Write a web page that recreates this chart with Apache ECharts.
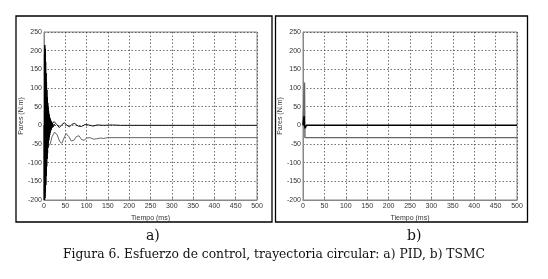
<!DOCTYPE html>
<html>
<head>
<meta charset="utf-8">
<script src="https://cdn.jsdelivr.net/npm/echarts@6/dist/echarts.min.js"></script>
<style>
  html, body { margin: 0; padding: 0; background: #fff; }
  #main { width: 548px; height: 279px; }
</style>
</head>
<body>
<div id="main"></div>
<script>
// ejes
var xTicks = [0, 50, 100, 150, 200, 250, 300, 350, 400, 450, 500];
var yTicks = [-200, -150, -100, -50, 0, 50, 100, 150, 200, 250];

// a) PID - oscilacion inicial (alta frecuencia)
var pidFastT = [0, 0.5, 1, 1.5, 2, 2.5, 3, 3.5, 4, 4.5, 5, 5.5, 6, 6.5, 7, 7.5, 8, 8.5, 9, 9.5,
  10, 10.5, 11, 11.5, 12, 12.5, 13, 13.5, 14, 14.5, 15, 15.5, 16, 16.5, 17, 17.5, 18, 19, 20, 22, 24, 26];
var pidFastV = [0, -200, 190, -200, 215, -195, 205, -180, 170, -160, 140, -135, 115, -110, 95, -90, 75, -75, 60, -60,
  48, -48, 38, -40, 30, -32, 24, -26, 20, -20, 16, -16, 13, -13, 11, -10, 9, -7, 6, -4, 3, 0];
// a) PID - curva cercana a cero
var pidZeroT = [0, 12, 18, 24, 30, 36, 42, 48, 54, 60, 66, 72, 80, 88, 96, 105, 115, 125, 140, 160, 180, 200, 500];
var pidZeroV = [0, -12, 4, 10, 2, -6, 2, 7, 0, -4, 3, 5, -2, -3, 2, 1, -2, 1, 0, 1, 0, 0, 0];
// a) PID - curva alrededor de -33
var pidOffT = [4, 7, 10, 14, 19, 25, 31, 37, 42, 47, 52, 58, 64, 70, 76, 82, 88, 94, 100, 108, 116, 124, 132, 140, 150, 500];
var pidOffV = [-40, -55, -60, -52, -30, -18, -26, -44, -48, -34, -22, -30, -42, -40, -30, -28, -38, -40, -34, -33, -37, -36, -34, -35, -33, -33];

// b) TSMC
var smcSpikeT = [0, 3.5, 4.5, 500];
var smcSpikeV = [0, 115, -33, -33];
var smcZeroT = [0, 2.5, 3.5, 5, 6, 8, 10, 500];
var smcZeroV = [0, 25, 0, -8, -3, 0, 0, 0];

function pairs(t, v) {
  return t.map(function (x, i) { return [x, v[i]]; });
}

var myChart = echarts.init(document.getElementById('main'));

var tickFont = { fontFamily: 'Liberation Sans', fontSize: 7, color: '#333' };

function makeX(gi) {
  return {
    type: 'value', gridIndex: gi, min: xTicks[0], max: xTicks[xTicks.length - 1], interval: 50,
    name: 'Tiempo (ms)', nameLocation: 'middle', nameGap: 11,
    nameTextStyle: { fontFamily: 'Liberation Sans', fontSize: 7, color: '#333' },
    axisLine: { onZero: false, lineStyle: { color: '#888', width: 1 } },
    axisTick: { show: true, inside: true, length: 2, lineStyle: { color: '#888' } },
    axisLabel: Object.assign({ margin: 3 }, tickFont),
    splitLine: { show: true, lineStyle: { color: '#333', type: [1.5, 2], width: 0.7 } }
  };
}
function makeY(gi) {
  return {
    type: 'value', gridIndex: gi, min: yTicks[0], max: yTicks[yTicks.length - 1], interval: 50,
    name: 'Pares (N.m)', nameLocation: 'middle', nameGap: 18,
    nameTextStyle: { fontFamily: 'Liberation Sans', fontSize: 7, color: '#333' },
    axisLine: { show: true, lineStyle: { color: '#888', width: 1 } },
    axisTick: { show: true, inside: true, length: 2, lineStyle: { color: '#888' } },
    axisLabel: Object.assign({ margin: 2 }, tickFont),
    splitLine: { show: true, lineStyle: { color: '#333', type: [1.5, 2], width: 0.7 } }
  };
}
function line(gi, t, v, color, w) {
  return {
    type: 'line', xAxisIndex: gi, yAxisIndex: gi, data: pairs(t, v),
    showSymbol: false, symbol: 'none', silent: true, z: 5,
    lineStyle: { color: color, width: w }
  };
}

var option = {
  animation: false,
  backgroundColor: '#fff',
  grid: [
    { left: 44, top: 32, width: 213, height: 168, show: true, borderColor: '#888', borderWidth: 1 },
    { left: 303, top: 32, width: 214, height: 168, show: true, borderColor: '#888', borderWidth: 1 }
  ],
  xAxis: [makeX(0), makeX(1)],
  yAxis: [makeY(0), makeY(1)],
  series: [
    line(0, pidOffT, pidOffV, '#555', 0.9),
    line(0, pidZeroT, pidZeroV, '#111', 1),
    line(0, pidFastT, pidFastV, '#000', 1),
    line(1, smcSpikeT, smcSpikeV, '#666', 1.4),
    line(1, smcZeroT, smcZeroV, '#000', 1.5)
  ],
  graphic: [
    { type: 'rect', shape: { x: 16, y: 16, width: 256, height: 206 }, style: { fill: null, stroke: '#000', lineWidth: 1.3 }, silent: true },
    { type: 'rect', shape: { x: 275.5, y: 16, width: 252, height: 206 }, style: { fill: null, stroke: '#000', lineWidth: 1.3 }, silent: true },
    { type: 'text', left: 146, top: 229, style: { text: 'a)', font: '14px "DejaVu Serif"', fill: '#111' } },
    { type: 'text', left: 407, top: 229, style: { text: 'b)', font: '14px "DejaVu Serif"', fill: '#111' } },
    { type: 'text', left: 'center', top: 249, style: { text: 'Figura 6. Esfuerzo de control, trayectoria circular: a) PID, b) TSMC', font: '12.3px "DejaVu Serif"', fill: '#111' } }
  ]
};
myChart.setOption(option);
</script>
</body>
</html>
